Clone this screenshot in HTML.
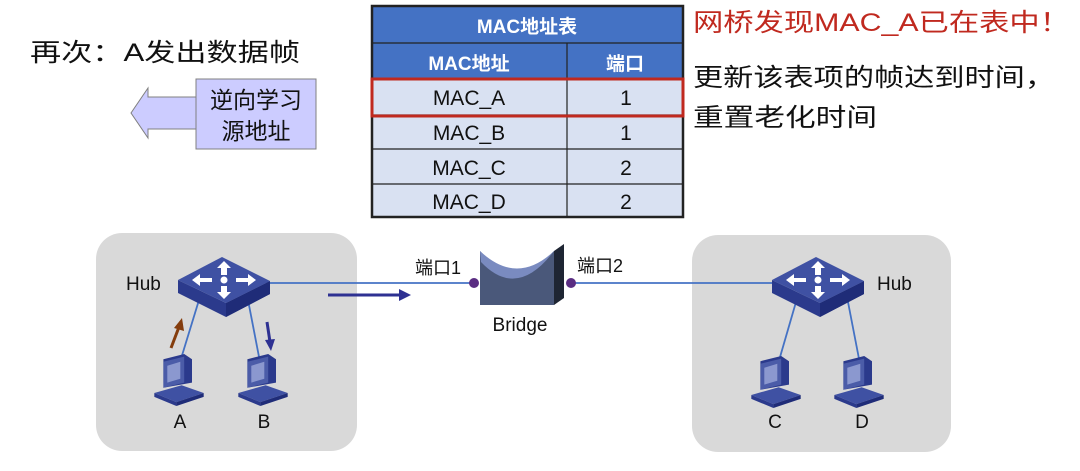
<!DOCTYPE html>
<html><head><meta charset="utf-8"><style>
html,body{margin:0;padding:0;background:#fff;}
svg text{font-family:"Liberation Sans","Noto Sans CJK SC",sans-serif;}
</style></head><body>
<svg width="1080" height="466" viewBox="0 0 1080 466" xmlns="http://www.w3.org/2000/svg">
<defs>
<g id="hub">
  <path d="M-44,-3 L-44,10 L4,34 L48,11 L48,-2 L4,20 Z" fill="#2b3a8c"/>
  <path d="M4,20 L4,34 L48,11 L48,-2 Z" fill="#1f2c78"/>
  <path d="M0,-26 L-44,-3 L4,20 L48,-2 Z" fill="#3f51a3"/>
  <g fill="#fff">
    <circle cx="2" cy="-3" r="3.5"/>
    <path d="M2,-22 L-5,-15 L-1,-15 L-1,-8 L5,-8 L5,-15 L9,-15 Z"/>
    <path d="M2,16 L-5,9 L-1,9 L-1,3 L5,3 L5,9 L9,9 Z"/>
    <path d="M-30,-3 L-22,-9 L-22,-5 L-10,-5 L-10,-1 L-22,-1 L-22,3 Z"/>
    <path d="M34,-3 L26,-9 L26,-5 L14,-5 L14,-1 L26,-1 L26,3 Z"/>
  </g>
</g>
<g id="pc">
  <path d="M-12,-16 L4,-20 L10,-16 L10,2 L-12,6 Z" fill="#2b3a8c"/>
  <path d="M-12,-14 L4,-18 L4,2 L-12,6 Z" fill="#4b5ca8"/>
  <path d="M-9,-11 L1,-14 L1,-1 L-9,2 Z" fill="#8b98cf"/>
  <path d="M-19,10 L2,4 L19,10 L-2,17 Z" fill="#3f51a3"/>
  <path d="M-19,10 L-2,17 L-2,20 L-19,13 Z" fill="#2b3a8c"/>
  <path d="M-2,17 L19,10 L19,13 L-2,20 Z" fill="#1f2c78"/>
</g>
</defs>

<text x="30" y="61" font-size="25" fill="#111" textLength="270" lengthAdjust="spacingAndGlyphs">再次：A发出数据帧</text>

<path d="M196,97 L148,97 L148,88 L131,113 L148,138 L148,129 L196,129 Z" fill="#ccccff" stroke="#808080" stroke-width="1"/>
<rect x="196" y="79" width="120" height="70" fill="#ccccff" stroke="#808080" stroke-width="1"/>
<text x="256" y="108" font-size="23" text-anchor="middle" fill="#111">逆向学习</text>
<text x="256" y="139" font-size="23" text-anchor="middle" fill="#111">源地址</text>

<rect x="372" y="6" width="311" height="72" fill="#4472c4"/>
<rect x="372" y="78" width="311" height="139" fill="#d9e1f2"/>
<g stroke="#222" stroke-width="1.2">
  <line x1="372" y1="43" x2="683" y2="43"/>
  <line x1="567" y1="43" x2="567" y2="217"/>
  <line x1="372" y1="115" x2="683" y2="115"/>
  <line x1="372" y1="149" x2="683" y2="149"/>
  <line x1="372" y1="184" x2="683" y2="184"/>
</g>
<rect x="372" y="6" width="311" height="211" fill="none" stroke="#222" stroke-width="2.5"/>
<text x="527" y="33" font-size="19" font-weight="bold" fill="#fff" text-anchor="middle">MAC地址表</text>
<text x="469" y="70" font-size="19" font-weight="bold" fill="#fff" text-anchor="middle">MAC地址</text>
<text x="625" y="70" font-size="19" font-weight="bold" fill="#fff" text-anchor="middle">端口</text>
<g font-size="21" fill="#111" text-anchor="middle">
  <text x="469" y="105">MAC_A</text><text x="626" y="105">1</text>
  <text x="469" y="140">MAC_B</text><text x="626" y="140">1</text>
  <text x="469" y="175">MAC_C</text><text x="626" y="175">2</text>
  <text x="469" y="209">MAC_D</text><text x="626" y="209">2</text>
</g>
<rect x="372" y="79" width="311" height="37" fill="none" stroke="#c0291f" stroke-width="3"/>

<text x="693" y="31" font-size="25" fill="#c0291f" textLength="377" lengthAdjust="spacingAndGlyphs">网桥发现MAC_A已在表中！</text>
<text x="693" y="86" font-size="25" fill="#111" textLength="362" lengthAdjust="spacingAndGlyphs">更新该表项的帧达到时间，</text>
<text x="693" y="126" font-size="25" fill="#111" textLength="184" lengthAdjust="spacingAndGlyphs">重置老化时间</text>

<rect x="96" y="233" width="261" height="218" rx="26" fill="#d9d9d9"/>
<rect x="692" y="235" width="259" height="217" rx="26" fill="#d9d9d9"/>

<g stroke="#4472c4" stroke-width="1.8">
  <line x1="266" y1="283" x2="474" y2="283"/>
  <line x1="571" y1="283" x2="776" y2="283"/>
  <line x1="199" y1="300" x2="180" y2="362"/>
  <line x1="248" y1="300" x2="260" y2="362"/>
  <line x1="796" y1="302" x2="778" y2="364"/>
  <line x1="848" y1="302" x2="860" y2="364"/>
</g>

<use href="#hub" x="222" y="283"/>
<use href="#hub" x="816" y="283"/>
<text x="126" y="290" font-size="19" fill="#111">Hub</text>
<text x="877" y="290" font-size="19" fill="#111">Hub</text>

<g transform="translate(179,380) scale(1.3)"><use href="#pc"/></g>
<g transform="translate(263,380) scale(1.3)"><use href="#pc"/></g>
<g transform="translate(776,382) scale(1.3)"><use href="#pc"/></g>
<g transform="translate(859,382) scale(1.3)"><use href="#pc"/></g>
<g font-size="19" fill="#111" text-anchor="middle">
  <text x="180" y="428">A</text><text x="264" y="428">B</text>
  <text x="775" y="428">C</text><text x="862" y="428">D</text>
</g>

<line x1="171" y1="348" x2="179" y2="327" stroke="#843c0c" stroke-width="3"/>
<path d="M182,318 L174,328 L184,331 Z" fill="#843c0c"/>
<line x1="267" y1="322" x2="270" y2="342" stroke="#2e3192" stroke-width="3"/>
<path d="M271,351 L265,340 L275,339 Z" fill="#2e3192"/>
<line x1="328" y1="295" x2="400" y2="295" stroke="#2e3192" stroke-width="3"/>
<path d="M411,295 L399,289 L399,301 Z" fill="#2e3192"/>

<path d="M480,251 Q517,290 554,251 L554,305 L480,305 Z" fill="#4a587a"/>
<path d="M480,251 Q517,286 554,251 Q517,300 481,262 Z" fill="#7a8bc0"/>
<path d="M554,251 L564,244 L564,298 L554,305 Z" fill="#1e2533"/>
<circle cx="474" cy="283" r="5" fill="#5a2d82"/>
<circle cx="571" cy="283" r="5" fill="#5a2d82"/>
<text x="415" y="274" font-size="18" fill="#111">端口1</text>
<text x="577" y="272" font-size="18" fill="#111">端口2</text>
<text x="520" y="331" font-size="19" fill="#111" text-anchor="middle">Bridge</text>
</svg>
</body></html>
